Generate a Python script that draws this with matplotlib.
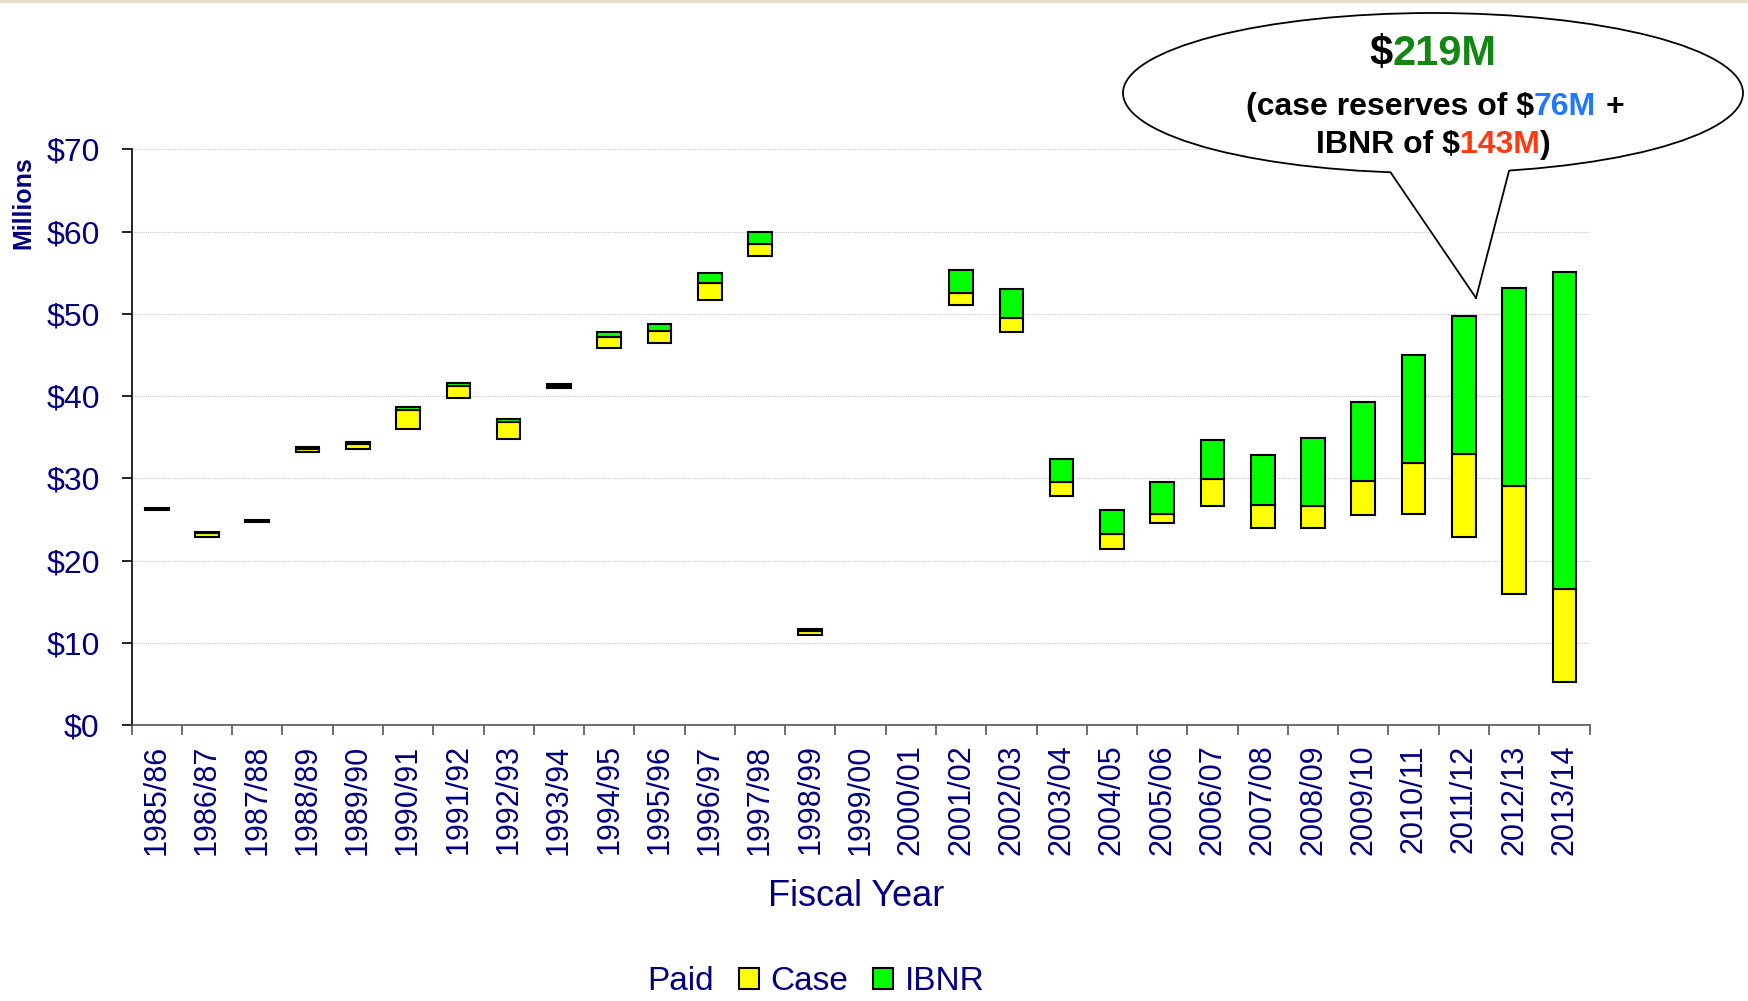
import numpy as np
import matplotlib.pyplot as plt
from matplotlib.patches import Ellipse, Polygon, Patch
from matplotlib.lines import Line2D

plt.rcParams['font.family'] = ['Liberation Sans', 'DejaVu Sans']

# fiscal years and the three stacked pieces ($ millions)
years = ['1985/86', '1986/87', '1987/88', '1988/89', '1989/90', '1990/91',
         '1991/92', '1992/93', '1993/94', '1994/95', '1995/96', '1996/97',
         '1997/98', '1998/99', '1999/00', '2000/01', '2001/02', '2002/03',
         '2003/04', '2004/05', '2005/06', '2006/07', '2007/08', '2008/09',
         '2009/10', '2010/11', '2011/12', '2012/13', '2013/14']
paid = [26.15, 22.8, 24.7, 33.2, 33.5, 35.95, 39.7, 34.8, 41.0, 45.9, 46.5,
        51.7, 57.0, 10.9, 0, 0, 51.1, 47.8, 27.9, 21.4, 24.6, 26.6, 24.0,
        23.9, 25.5, 25.6, 22.8, 15.9, 5.2]
case = [0.15, 0.6, 0.15, 0.4, 0.7, 2.3, 1.5, 2.1, 0.2, 1.3, 1.4,
        2.0, 1.5, 0.5, 0, 0, 1.4, 1.7, 1.7, 1.8, 1.0, 3.3, 2.7,
        2.7, 4.2, 6.2, 10.2, 13.1, 11.3]
ibnr = [0.1, 0.1, 0.05, 0.2, 0.2, 0.4, 0.4, 0.3, 0.3, 0.6, 0.8,
        1.3, 1.4, 0.3, 0, 0, 2.8, 3.5, 2.8, 3.0, 3.9, 4.8, 6.1,
        8.3, 9.6, 13.2, 16.7, 24.1, 38.6]

navy = '#000080'
W, H = 1749, 1001

def fx(px):
    return px / W

def fy(py):
    return 1 - py / H

fig = plt.figure(figsize=(W / 100, H / 100), dpi=100)
ax = fig.add_axes([fx(131.6), fy(725), fx(1589.5) - fx(131.6), fy(149.3) - fy(725)])

x = np.arange(len(years))
has_bar = np.array(paid) > 0
xb = x[has_bar]
p = np.array(paid)[has_bar]
c = np.array(case)[has_bar]
b = np.array(ibnr)[has_bar]

# paid is the invisible base
ax.bar(xb, c, 0.47, bottom=p, color='#FFFF00', edgecolor='black', linewidth=1.5, zorder=3)
ax.bar(xb, b, 0.47, bottom=p + c, color='#00FF00', edgecolor='black', linewidth=1.5, zorder=3)

ax.set_xlim(-0.5, len(years) - 0.5)
ax.set_ylim(0, 70)
ax.set_yticks(range(0, 71, 10))
ax.set_yticklabels([f'${v}' for v in range(0, 71, 10)])
ax.set_xticks(x)
ax.set_xticklabels(years, rotation=90, va='top', ha='center')
ax.set_xticks(np.arange(-0.5, len(years), 1), minor=True)

ax.tick_params(axis='y', colors='black', labelcolor=navy, labelsize=23,
               length=7, width=1.2, pad=16)
ax.tick_params(axis='x', which='major', length=0, labelcolor=navy,
               labelsize=22, pad=14)
ax.tick_params(axis='x', which='minor', length=7, width=1.2, color='#555555')

ax.grid(axis='y', color='#c8c8c8', linestyle=(0, (1, 1)), linewidth=0.8, zorder=0)
ax.set_axisbelow(True)
for s in ['top', 'right']:
    ax.spines[s].set_visible(False)
ax.spines['left'].set_color('black')
ax.spines['left'].set_linewidth(1.2)
ax.spines['bottom'].set_color('#555555')
ax.spines['bottom'].set_linewidth(1.2)

fig.text(fx(23), fy(203), 'Millions', rotation=90, ha='center', va='center',
         fontsize=18, fontweight='bold', color=navy)
fig.text(fx(856), fy(897), 'Fiscal Year', ha='center', va='center',
         fontsize=26, color=navy)

# legend: paid has no visible swatch
handles = [Patch(facecolor='none', edgecolor='none'),
           Patch(facecolor='#FFFF00', edgecolor='black', linewidth=1.5),
           Patch(facecolor='#00FF00', edgecolor='black', linewidth=1.5)]
leg = fig.legend(handles, ['Paid', 'Case', 'IBNR'], ncol=3, frameon=False,
                 loc='center', bbox_to_anchor=(fx(800), fy(982)),
                 fontsize=24, handlelength=0.6, handleheight=0.6,
                 handletextpad=0.35, columnspacing=0.75, borderpad=0)
for t in leg.get_texts():
    t.set_color(navy)

# callout bubble
ell = Ellipse((fx(1433), fy(93)), fx(620), 160 / H, facecolor='white',
              edgecolor='black', linewidth=1.3, transform=fig.transFigure, zorder=5)
fig.add_artist(ell)
tail = [(1391, 160), (1391, 173), (1476, 298), (1509, 171), (1509, 160)]
fig.add_artist(Polygon([(fx(a), fy(b_)) for a, b_ in tail], closed=True,
                       facecolor='white', edgecolor='none',
                       transform=fig.transFigure, zorder=6))
for (x0, y0), (x1, y1) in [((1391, 173), (1476, 298)), ((1476, 298), (1509, 171))]:
    fig.add_artist(Line2D([fx(x0), fx(x1)], [fy(y0), fy(y1)], color='black',
                          linewidth=1.3, transform=fig.transFigure, zorder=7))


def colored_line(x0, y0, parts, size):
    prev = None
    for txt, col, gap in parts:
        if prev is None:
            prev = fig.text(fx(x0), fy(y0), txt, color=col, fontsize=size,
                            fontweight='bold', ha='left', va='center', zorder=8)
        else:
            prev = fig.add_artist(plt.Annotation(
                txt, xy=(1, 0), xycoords=prev, xytext=(gap, 0),
                textcoords='offset points', color=col, fontsize=size,
                fontweight='bold', ha='left', va='bottom', zorder=8))
    return prev


colored_line(1369, 54, [('$', 'black', 0), ('219M', '#138513', 0)], 30)
colored_line(1246, 107, [('(case reserves of $', 'black', 0),
                         ('76M', '#1f78ff', 0), ('+', 'black', 6.4)], 23)
colored_line(1316, 145, [('IBNR of $', 'black', 0),
                         ('143M', '#ff3a10', 0), (')', 'black', 0)], 23)

# thin slide border at the top
fig.add_artist(Line2D([0, 1], [fy(1), fy(1)], color='#e9dfc8', linewidth=2.5,
                      transform=fig.transFigure))

fig.savefig('out.png', dpi=100)
